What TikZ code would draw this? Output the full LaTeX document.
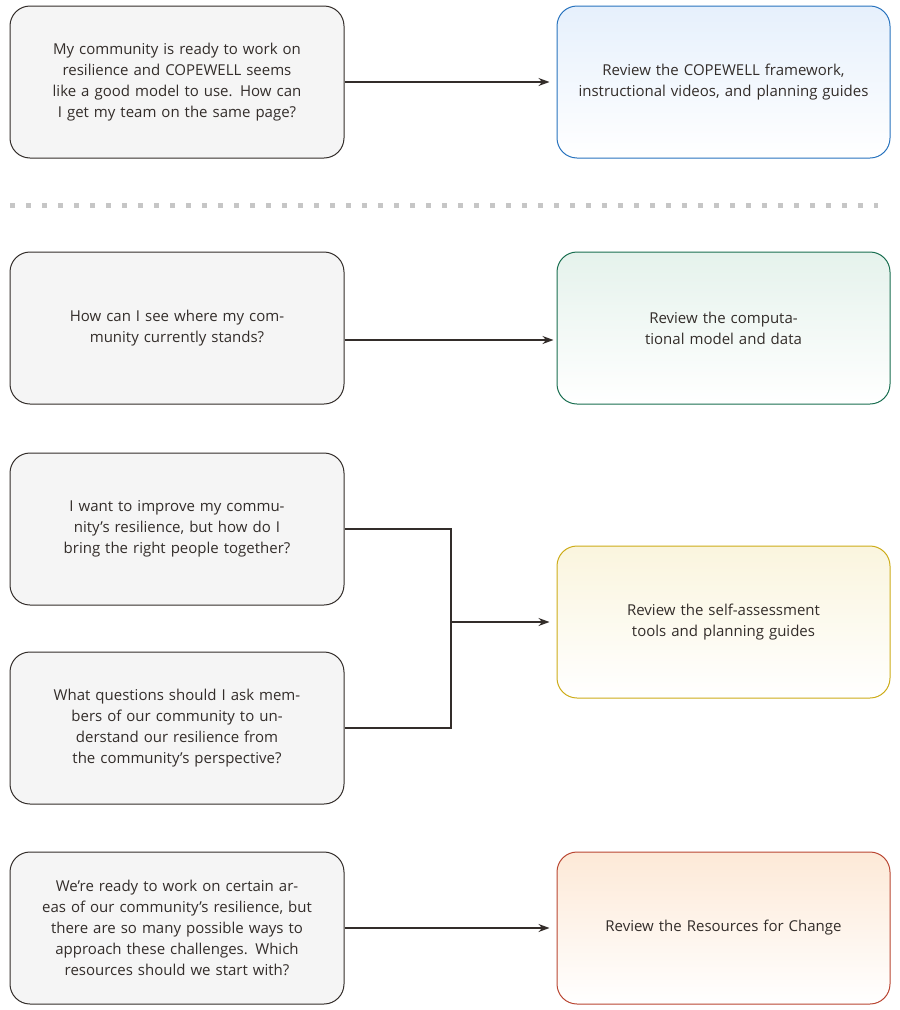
\documentclass[tikz,border=0pt]{standalone}
\usepackage{fontspec}
\setmainfont{Open Sans}
\usetikzlibrary{arrows.meta,positioning}
\definecolor{qfill}{RGB}{245,245,245}
\definecolor{qline}{RGB}{51,45,42}
\definecolor{bline}{RGB}{40,115,190}
\definecolor{btop}{RGB}{230,240,252}
\definecolor{gline}{RGB}{25,110,80}
\definecolor{gtop}{RGB}{229,242,236}
\definecolor{yline}{RGB}{205,172,25}
\definecolor{ytop}{RGB}{250,245,222}
\definecolor{oline}{RGB}{185,70,50}
\definecolor{otop}{RGB}{253,233,215}

\begin{document}
\begin{tikzpicture}[x=1pt, y=-1pt, font=\fontsize{15}{21}\selectfont]
    \tikzset{>={Stealth[length=11pt,width=8pt]}}
    % box styles
    \tikzstyle{question} = [rectangle, rounded corners=20pt, minimum width=334pt, minimum height=152pt, text width=300pt, align=center, draw=qline, line width=1pt, fill=qfill, text=qline]
    \tikzstyle{review}   = [rectangle, rounded corners=20pt, minimum width=333pt, minimum height=152pt, text width=300pt, align=center, line width=1pt, text=qline]
    \tikzstyle{arrow}    = [line width=1.2pt, qline, ->, shorten >=7pt]

    \useasboundingbox (0,0) rectangle (900,1010);

    \node[question] (q1) at (177,82) {My community is ready to work on resilience and COPEWELL seems like a good model to use. How can I get my team on the same page?};
    \node[review, draw=bline, top color=btop, bottom color=white] (r1) at (723.5,82) {Review the COPEWELL framework, instructional videos, and planning guides};

    \draw[gray!45, line width=5pt, dash pattern=on 5pt off 11pt] (10,205) -- (878,205);

    \node[question] (q2) at (177,328) {How can I see where my community currently stands?};
    \node[review, draw=gline, top color=gtop, bottom color=white] (r2) at (723.5,328) {Review the computational model and data};

    \node[question] (q3) at (177,529) {I want to improve my community's resilience, but how do I bring the right people together?};
    \node[question] (q4) at (177,728) {What questions should I ask members of our community to understand our resilience from the community’s perspective?};
    \node[review, draw=yline, top color=ytop, bottom color=white] (r3) at (723.5,622) {Review the self-assessment tools and planning guides};

    \node[question] (q5) at (177,928) {We're ready to work on certain areas of our community's resilience, but there are so many possible ways to approach these challenges. Which resources should we start with?};
    \node[review, draw=oline, top color=otop, bottom color=white] (r5) at (723.5,928) {Review the Resources for Change};

    \coordinate (join) at (451,622);

    \draw[arrow] (q1) -- (r1);
    \draw[arrow, shorten >=3pt] ([yshift=-12pt]q2.east) -- ([yshift=-12pt]r2.west);
    \draw[line width=1.2pt, qline] (q3.east) -| (join);
    \draw[line width=1.2pt, qline] (q4.east) -| (join);
    \draw[arrow] (join) -- (r3);
    \draw[arrow] (q5) -- (r5);
\end{tikzpicture}
\end{document}
